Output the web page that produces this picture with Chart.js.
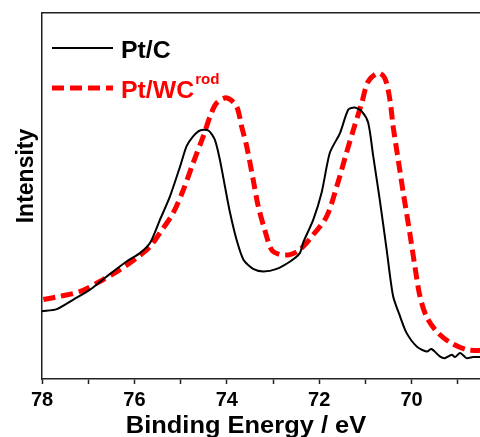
<!DOCTYPE html>
<html>
<head>
<meta charset="utf-8">
<script src="https://cdn.jsdelivr.net/npm/chart.js@4.4.1/dist/chart.umd.min.js"></script>
<style>
  html, body { margin: 0; padding: 0; background: #ffffff; }
  #wrap { width: 480px; height: 437px; position: relative; }
</style>
</head>
<body>
<div id="wrap"><canvas id="c" width="480" height="437"></canvas></div>
<script>
// ---- data (binding energy in eV, intensity in arbitrary units) ----
const seriesNames = ["Pt/C", "Pt/WC"];
const energyPtC = [78.00, 77.68, 77.32, 76.96, 76.60, 76.17, 75.88, 75.66, 75.45, 75.23, 75.01, 74.87, 74.73, 74.58, 74.40, 74.26, 74.15, 74.04, 73.93, 73.79, 73.64, 73.43, 73.21, 72.92, 72.63, 72.42, 72.35, 72.13, 71.95, 71.77, 71.55, 71.37, 71.23, 71.08, 70.94, 70.83, 70.69, 70.54, 70.40, 70.25, 70.11, 69.89, 69.67, 69.57, 69.39, 69.28, 69.13, 69.06, 68.95, 68.81, 68.67, 68.52];
const intensityPtC = [18.5, 19.1, 21.7, 24.4, 28.0, 32.1, 34.4, 37.2, 43.4, 49.9, 58.1, 63.6, 66.3, 67.9, 67.9, 65.4, 59.9, 52.6, 45.4, 38.1, 32.6, 30.1, 29.4, 30.1, 32.1, 34.4, 37.2, 43.5, 50.8, 61.8, 67.2, 73.6, 74.2, 73.1, 70.0, 60.8, 49.0, 35.3, 22.6, 17.1, 12.6, 8.9, 7.5, 8.2, 6.2, 5.7, 6.6, 6.0, 7.1, 5.7, 6.0, 6.0];
const energyPtWC = [77.97, 77.61, 77.18, 76.74, 76.31, 75.95, 75.66, 75.45, 75.16, 74.94, 74.73, 74.51, 74.36, 74.22, 74.00, 73.79, 73.68, 73.57, 73.43, 73.32, 73.18, 73.03, 72.85, 72.63, 72.42, 72.13, 71.84, 71.62, 71.41, 71.26, 71.08, 70.94, 70.72, 70.58, 70.47, 70.40, 70.29, 70.18, 70.04, 69.93, 69.82, 69.68, 69.46, 69.17, 68.81, 68.52];
const intensityPtWC = [21.7, 22.6, 23.9, 26.7, 29.9, 33.1, 36.2, 39.9, 45.4, 51.7, 59.0, 66.3, 71.8, 75.4, 76.8, 74.5, 69.0, 63.6, 54.5, 47.2, 40.8, 35.3, 34.0, 34.0, 35.3, 39.4, 44.4, 52.6, 61.8, 68.1, 75.4, 81.3, 83.6, 82.2, 76.3, 69.0, 59.9, 50.8, 39.9, 30.8, 22.6, 17.1, 13.0, 10.0, 8.0, 7.8];
const xTickValues = [69, 70, 71, 72, 73, 74, 75, 76, 77, 78];
const xLabeledTicks = [70, 72, 74, 76, 78];
const xTitle = "Binding Energy / eV";
const yTitle = "Intensity";

const toPoints = (xs, ys) => xs.map((x, i) => ({ x: x, y: ys[i] }));

const FONT = "'Liberation Sans', Arial, sans-serif";

function stretchedText(ctx, text, x, y, sx) {
  ctx.save();
  ctx.translate(x, y);
  ctx.scale(sx, 1);
  ctx.fillText(text, 0, 0);
  ctx.restore();
}

const decorPlugin = {
  id: 'decor',
  afterDraw(chart) {
    const ctx = chart.ctx;
    const ds = chart.data.datasets;
    ctx.save();
    // legend
    const lx0 = 52, lx1 = 113;
    const rows = [48, 88];
    const sx = 1.08;
    ds.forEach((d, i) => {
      ctx.beginPath();
      ctx.strokeStyle = d.borderColor;
      ctx.lineWidth = d.borderWidth;
      ctx.setLineDash(d.borderDash || []);
      ctx.moveTo(lx0, rows[i]);
      ctx.lineTo(lx1, rows[i]);
      ctx.stroke();
      ctx.setLineDash([]);
      ctx.fillStyle = d.borderColor;
      ctx.font = "bold 23px " + FONT;
      ctx.textAlign = 'left';
      ctx.textBaseline = 'alphabetic';
      stretchedText(ctx, seriesNames[i], 121, rows[i] + 9.5, sx);
      if (i === 1) {
        const w = ctx.measureText(seriesNames[i]).width * sx;
        ctx.font = "bold 14px " + FONT;
        stretchedText(ctx, "rod", 121 + w + 1, rows[i] - 4, sx);
      }
    });
    // x title
    ctx.fillStyle = '#000';
    ctx.font = "bold 24px " + FONT;
    ctx.textAlign = 'center';
    ctx.textBaseline = 'alphabetic';
    stretchedText(ctx, xTitle, 246, 433, 1.06);
    // y title
    ctx.save();
    ctx.translate(33, 176);
    ctx.rotate(-Math.PI / 2);
    ctx.font = "bold 23px " + FONT;
    ctx.textAlign = 'center';
    ctx.textBaseline = 'alphabetic';
    ctx.fillText(yTitle, 0, 0);
    ctx.restore();
    ctx.restore();
  }
};

new Chart(document.getElementById('c'), {
  type: 'line',
  data: {
    datasets: [
      {
        label: seriesNames[0],
        data: toPoints(energyPtC, intensityPtC),
        borderColor: '#000000',
        borderWidth: 2,
        pointRadius: 0,
        tension: 0.25,
        fill: false
      },
      {
        label: seriesNames[1],
        data: toPoints(energyPtWC, intensityPtWC),
        borderColor: '#ff0000',
        borderWidth: 5,
        borderDash: [12, 6],
        pointRadius: 0,
        tension: 0.3,
        fill: false
      }
    ]
  },
  options: {
    responsive: false,
    animation: false,
    layout: { padding: { left: 0, right: 0, top: 0, bottom: 0 } },
    plugins: { legend: { display: false }, tooltip: { enabled: false } },
    scales: {
      x: {
        type: 'linear',
        reverse: true,
        min: 68.52,
        max: 78,
        position: 'bottom',
        afterBuildTicks(scale) { scale.ticks = xTickValues.map(v => ({ value: v })); },
        afterFit(scale) { scale.height = 58; },
        grid: { display: true, drawOnChartArea: false, drawTicks: true, tickLength: 5, tickColor: '#222', tickWidth: 1.5 },
        border: { display: true, color: '#222', width: 1.5 },
        ticks: {
          autoSkip: false,
          maxRotation: 0,
          padding: 4,
          color: '#000',
          font: { family: FONT, size: 20, weight: 'bold' },
          callback: (v) => xLabeledTicks.includes(v) ? String(v) : ''
        }
      },
      xTop: {
        type: 'linear',
        reverse: true,
        min: 68.52,
        max: 78,
        position: 'top',
        afterFit(scale) { scale.height = 13; },
        grid: { display: false },
        border: { display: true, color: '#222', width: 1.5 },
        ticks: { display: false }
      },
      y: {
        type: 'linear',
        min: 0,
        max: 100,
        afterFit(scale) { scale.width = 42; },
        grid: { display: false },
        border: { display: true, color: '#222', width: 1.5 },
        ticks: { display: false }
      }
    }
  },
  plugins: [decorPlugin]
});
</script>
</body>
</html>
